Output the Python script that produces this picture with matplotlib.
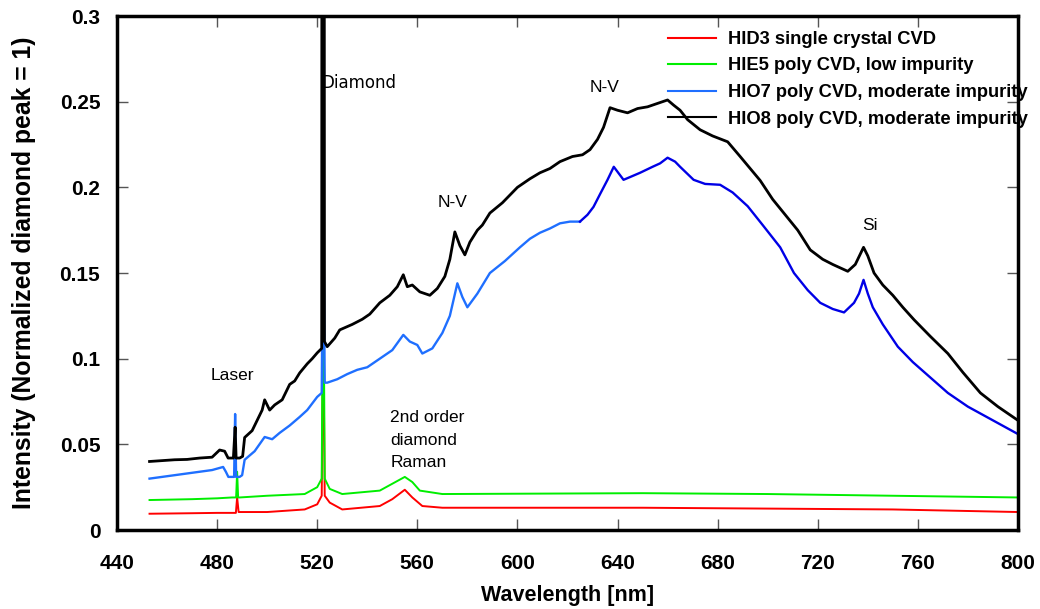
import numpy as np
import matplotlib.pyplot as plt

# spectra: wavelength [nm], normalized intensity
wl_hio8 = [453, 458, 463, 468, 473, 478, 481, 483, 484.4, 486.5, 487.2, 487.6, 489, 490.2, 491,
           494, 496, 498, 499, 501, 503, 506, 509, 511, 513, 516, 518, 520, 521.8, 522.0, 522.6,
           522.9, 524, 527, 529, 534, 538, 541, 545, 549, 552, 554.4, 556, 558, 561, 565, 568,
           571, 573, 575, 577, 579, 581, 584, 586, 589, 594, 600, 605, 609, 613, 617, 622, 626,
           629, 632, 634.4, 637, 640, 644, 648, 652, 656, 660, 662.4, 665, 668, 673, 678, 684,
           689, 693, 697, 702, 707, 712, 717, 722, 726, 729, 732, 735, 738.3, 740, 742.5, 746,
           750, 754, 758.5, 765, 772, 778, 785, 792, 800]
int_hio8 = [0.040, 0.0405, 0.041, 0.0412, 0.042, 0.0425, 0.0467, 0.046, 0.042, 0.042, 0.060, 0.042,
            0.042, 0.043, 0.054, 0.058, 0.064, 0.070, 0.076, 0.070, 0.073, 0.076, 0.085, 0.087,
            0.0917, 0.097, 0.100, 0.1034, 0.106, 1.0, 1.0, 0.110, 0.107, 0.112, 0.1168, 0.120,
            0.123, 0.126, 0.1326, 0.137, 0.142, 0.149, 0.142, 0.143, 0.139, 0.137, 0.141, 0.148,
            0.158, 0.174, 0.166, 0.1606, 0.168, 0.175, 0.178, 0.185, 0.191, 0.200, 0.205, 0.2085,
            0.211, 0.215, 0.218, 0.219, 0.222, 0.228, 0.235, 0.2465, 0.245, 0.2435, 0.246, 0.247,
            0.249, 0.251, 0.248, 0.245, 0.2395, 0.2336, 0.230, 0.2266, 0.218, 0.211, 0.204, 0.193,
            0.184, 0.175, 0.1635, 0.158, 0.155, 0.153, 0.151, 0.155, 0.165, 0.160, 0.150, 0.143,
            0.137, 0.130, 0.1227, 0.113, 0.103, 0.092, 0.080, 0.072, 0.064]

wl_hio7 = [453, 458, 463, 468, 473, 478, 482.4, 483.5, 484.5, 486.8, 487.2, 487.6, 489, 490, 491,
           495, 499, 502, 505, 509, 513, 516, 520, 521.8, 522.4, 523, 524, 528, 532, 536, 540, 545,
           550, 554.4, 557, 560, 562, 566, 570, 573, 576, 578, 580, 584, 589, 595, 601, 605, 609,
           613, 617, 621, 625, 628, 630.4, 633, 636, 638.5, 642.4, 645, 649, 654, 657, 660, 663,
           665, 670.4, 675, 681, 686, 689, 692, 698, 705, 710.5, 716, 721, 726, 730.5, 734.5,
           736.5, 738.3, 740, 742, 746, 752, 758, 765, 772, 780, 790, 800]
int_hio7 = [0.030, 0.031, 0.032, 0.033, 0.034, 0.035, 0.0368, 0.034, 0.031, 0.031, 0.0677, 0.031,
            0.031, 0.032, 0.041, 0.046, 0.0543, 0.053, 0.0567, 0.061, 0.066, 0.070, 0.0777, 0.080,
            0.197, 0.086, 0.086, 0.088, 0.091, 0.0935, 0.095, 0.100, 0.105, 0.1139, 0.110, 0.108,
            0.103, 0.106, 0.115, 0.125, 0.144, 0.136, 0.130, 0.138, 0.150, 0.157, 0.165, 0.170,
            0.1735, 0.176, 0.179, 0.180, 0.180, 0.184, 0.1886, 0.196, 0.2044, 0.212, 0.2044,
            0.206, 0.2085, 0.212, 0.214, 0.2173, 0.215, 0.212, 0.2044, 0.202, 0.2015, 0.197,
            0.193, 0.189, 0.178, 0.165, 0.150, 0.140, 0.1326, 0.129, 0.127, 0.1326, 0.138, 0.146,
            0.138, 0.130, 0.120, 0.107, 0.098, 0.089, 0.080, 0.072, 0.064, 0.056]

wl_hie5 = [453, 470, 480, 486, 487.6, 488, 488.4, 489, 500, 515, 520, 521.8, 522.4, 523, 525, 530,
           545, 550, 555, 558, 561, 570, 650, 700, 800]
int_hie5 = [0.0175, 0.018, 0.0185, 0.019, 0.019, 0.034, 0.019, 0.019, 0.020, 0.021, 0.025, 0.030,
            0.173, 0.030, 0.024, 0.021, 0.023, 0.027, 0.031, 0.028, 0.023, 0.021, 0.0215, 0.021,
            0.019]

wl_hid3 = [453, 470, 480, 487.5, 488, 488.6, 500, 515, 520, 521.8, 522.4, 523, 525, 530, 545, 550,
           555, 558, 562, 570, 650, 750, 800]
int_hid3 = [0.0095, 0.0098, 0.010, 0.010, 0.019, 0.0105, 0.0105, 0.012, 0.015, 0.020, 0.122, 0.020,
            0.016, 0.012, 0.014, 0.018, 0.0235, 0.019, 0.014, 0.013, 0.013, 0.012, 0.0105]

x_ticks = [440, 480, 520, 560, 600, 640, 680, 720, 760, 800]
y_ticks = [0, 0.05, 0.1, 0.15, 0.2, 0.25, 0.3]
y_tick_labels = ['0', '0.05', '0.1', '0.15', '0.2', '0.25', '0.3']

font = 'Liberation Sans'

fig = plt.figure(figsize=(10.4, 6.09), dpi=100)
ax = fig.add_axes([0.1125, 0.1297, 0.8663, 0.844])

ax.plot(wl_hid3, int_hid3, color='#ff0000', lw=1.4, label='HID3 single crystal CVD')
ax.plot(wl_hie5, int_hie5, color='#00ee00', lw=1.4, label='HIE5 poly CVD, low impurity')
# blue trace changes shade around 626 nm in the original
wl7 = np.array(wl_hio7)
in7 = np.array(int_hio7)
cut = wl7 <= 626
ax.plot(wl7[cut], in7[cut], color='#1f6fff', lw=1.7, label='HIO7 poly CVD, moderate impurity')
ax.plot(np.r_[wl7[cut][-1], wl7[~cut]], np.r_[in7[cut][-1], in7[~cut]], color='#0000e6', lw=1.7)
ax.plot(wl_hio8, int_hio8, color='black', lw=2.0, label='HIO8 poly CVD, moderate impurity')

ax.set_xlim(440, 800)
ax.set_ylim(0, 0.3)
ax.set_xticks(x_ticks)
ax.set_yticks(y_ticks)
ax.set_yticklabels(y_tick_labels)
ax.tick_params(direction='in', length=8, width=1, top=True, right=True, labelsize=15,
               color='#555555')
ax.tick_params(axis='y', pad=12)
ax.tick_params(axis='x', pad=17)
for lab in ax.get_xticklabels() + ax.get_yticklabels():
    lab.set_fontweight('bold')
    lab.set_family(font)
for sp in ax.spines.values():
    sp.set_linewidth(2.5)

ax.set_xlabel('Wavelength [nm]', fontsize=15.5, fontweight='bold', family=font, labelpad=9)
ax.set_ylabel('Intensity (Normalized diamond peak = 1)', fontsize=17.8, fontweight='bold',
              family=font, labelpad=17)

txt = dict(fontsize=12.5, family=font)
ax.text(486, 0.090, 'Laser', ha='center', va='center', **txt)
ax.text(521.5, 0.261, 'Diamond', ha='left', va='center', fontsize=12, family='DejaVu Sans')
ax.text(549.2, 0.0525, '2nd order\ndiamond\nRaman', ha='left', va='center', linespacing=1.62,
        **txt)
ax.text(574, 0.191, 'N-V', ha='center', va='center', **txt)
ax.text(635, 0.258, 'N-V', ha='center', va='center', **txt)
ax.text(741, 0.178, 'Si', ha='center', va='center', **txt)

leg = ax.legend(loc='upper left', bbox_to_anchor=(0.612, 0.971), frameon=False,
                prop={'family': font, 'weight': 'bold', 'size': 13.2},
                handlelength=2.6, handletextpad=0.65, labelspacing=0.52, borderaxespad=0,
                borderpad=0)
for h in leg.get_lines():
    h.set_linewidth(1.5)

fig.savefig('out.png', dpi=100)
